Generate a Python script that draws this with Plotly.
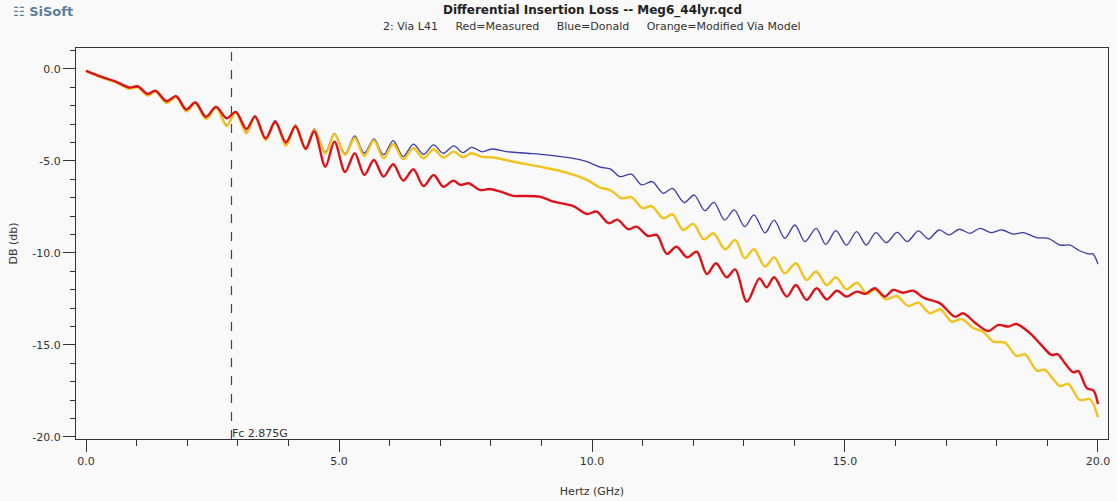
import plotly.graph_objects as go

# ---------------- data ----------------
freq_red = [0, 0.3, 0.59, 0.86, 1.02, 1.22, 1.37, 1.59, 1.78, 1.98, 2.16, 2.37, 2.57, 2.78, 2.96,
            3.17, 3.34, 3.55, 3.74, 3.95, 4.14, 4.34, 4.51, 4.73, 4.91, 5.12, 5.31, 5.50, 5.69, 5.88,
            6.07, 6.27, 6.47, 6.67, 6.87, 7.06, 7.26, 7.40, 7.56, 7.79, 7.98, 8.25, 8.45, 8.64, 8.97,
            9.24, 9.63, 9.90, 10.09, 10.33, 10.50, 10.72, 10.88, 11.11, 11.28, 11.48, 11.67, 11.88,
            12.07, 12.27, 12.45, 12.66, 12.83, 13.06, 13.31, 13.45, 13.60, 13.85, 14.03, 14.24, 14.44,
            14.64, 14.84, 15.03, 15.23, 15.40, 15.59, 15.79, 15.95, 16.15, 16.35, 16.55, 16.88, 17.17,
            17.34, 17.57, 17.83, 18.03, 18.23, 18.39, 18.66, 18.85, 19.08, 19.20, 19.35, 19.51, 19.61,
            19.78, 19.91, 20.0]
db_red = [-0.10, -0.42, -0.69, -1.01, -0.94, -1.36, -1.18, -1.75, -1.48, -2.20, -1.82, -2.60, -2.06,
          -2.68, -2.33, -3.26, -2.59, -3.77, -2.88, -3.98, -3.12, -4.35, -3.40, -5.31, -3.95, -5.60,
          -4.58, -5.76, -4.95, -5.85, -5.18, -6.07, -5.45, -6.36, -5.76, -6.40, -6.07, -6.30, -6.21,
          -6.58, -6.52, -6.72, -6.90, -6.90, -6.94, -7.21, -7.45, -7.88, -7.75, -8.38, -8.19, -8.71,
          -8.57, -9.08, -9.02, -10.05, -9.66, -10.24, -9.93, -11.14, -10.56, -11.32, -10.89, -12.65,
          -11.38, -11.87, -11.32, -12.37, -11.74, -12.55, -11.92, -12.52, -12.05, -12.37, -12.10,
          -12.22, -11.92, -12.37, -12.01, -12.16, -12.05, -12.43, -12.74, -13.46, -13.28, -13.79,
          -14.24, -13.91, -14.00, -13.86, -14.37, -14.91, -15.54, -15.50, -16.00, -16.49, -16.41,
          -17.35, -17.48, -18.21]

freq_orange = [0, 0.3, 0.59, 0.86, 1.02, 1.22, 1.37, 1.59, 1.78, 1.98, 2.16, 2.37, 2.57, 2.78, 2.96,
               3.17, 3.34, 3.55, 3.74, 3.95, 4.14, 4.34, 4.51, 4.73, 4.91, 5.12, 5.31, 5.50, 5.69,
               5.88, 6.07, 6.27, 6.47, 6.67, 6.87, 7.06, 7.27, 7.45, 7.62, 7.83, 8.02, 8.25, 8.45,
               8.97, 9.50, 9.90, 10.16, 10.36, 10.59, 10.78, 11.00, 11.18, 11.41, 11.59, 11.80, 12.00,
               12.21, 12.40, 12.63, 12.83, 13.02, 13.20, 13.42, 13.60, 13.81, 14.03, 14.24, 14.43,
               14.64, 14.82, 15.03, 15.24, 15.43, 15.59, 15.81, 16.02, 16.25, 16.45, 16.68, 16.88,
               17.11, 17.31, 17.54, 17.73, 17.93, 18.16, 18.39, 18.56, 18.79, 18.95, 19.25, 19.41,
               19.64, 19.84, 20.0]
db_orange = [-0.10, -0.45, -0.72, -1.08, -0.98, -1.45, -1.22, -1.85, -1.52, -2.30, -1.85, -2.72,
             -2.10, -3.10, -2.35, -3.50, -2.59, -3.86, -2.86, -4.17, -3.10, -4.35, -3.32, -4.58,
             -3.55, -4.67, -3.75, -4.73, -3.89, -4.86, -4.08, -4.91, -4.31, -4.86, -4.36, -4.82,
             -4.49, -4.80, -4.58, -4.78, -4.80, -4.92, -5.04, -5.31, -5.63, -6.03, -6.45, -6.58,
             -7.03, -6.97, -7.57, -7.45, -8.12, -7.90, -8.75, -8.42, -9.26, -8.93, -9.80, -9.29,
             -10.29, -9.80, -10.74, -10.24, -11.11, -10.56, -11.47, -11.01, -11.74, -11.32, -11.97,
             -11.61, -12.23, -11.97, -12.52, -12.34, -12.88, -12.70, -13.28, -13.06, -13.73, -13.60,
             -14.09, -14.28, -14.82, -14.87, -15.60, -15.51, -16.39, -16.36, -17.23, -17.12, -17.99,
             -17.95, -18.93]

freq_blue = [0, 0.3, 0.59, 0.86, 1.02, 1.22, 1.37, 1.59, 1.78, 1.98, 2.16, 2.37, 2.57, 2.78, 2.96,
             3.17, 3.34, 3.55, 3.74, 3.95, 4.14, 4.34, 4.51, 4.73, 4.91, 5.12, 5.31, 5.50, 5.69, 5.88,
             6.07, 6.27, 6.47, 6.67, 6.87, 7.06, 7.27, 7.45, 7.62, 7.83, 8.02, 8.31, 8.71, 9.10, 9.63,
             9.90, 10.16, 10.36, 10.55, 10.78, 10.98, 11.19, 11.41, 11.59, 11.82, 12.02, 12.23, 12.41,
             12.62, 12.81, 13.02, 13.20, 13.42, 13.60, 13.81, 14.01, 14.21, 14.43, 14.62, 14.82,
             15.03, 15.23, 15.42, 15.61, 15.82, 16.03, 16.23, 16.45, 16.65, 16.86, 17.06, 17.26,
             17.47, 17.67, 17.88, 18.10, 18.33, 18.52, 18.79, 19.02, 19.25, 19.45, 19.61, 19.81,
             19.90, 20.0]
db_blue = [-0.10, -0.44, -0.71, -1.06, -0.95, -1.42, -1.18, -1.82, -1.47, -2.26, -1.80, -2.68,
           -2.04, -3.05, -2.30, -3.45, -2.54, -3.80, -2.80, -4.10, -3.04, -4.28, -3.26, -4.52,
           -3.50, -4.60, -3.64, -4.58, -3.80, -4.67, -3.89, -4.76, -4.08, -4.64, -4.13, -4.58,
           -4.18, -4.55, -4.26, -4.50, -4.35, -4.49, -4.58, -4.67, -4.86, -5.04, -5.34, -5.43,
           -5.85, -5.72, -6.30, -6.12, -6.76, -6.49, -7.26, -6.85, -7.70, -7.25, -8.21, -7.66,
           -8.57, -7.93, -8.90, -8.21, -9.20, -8.48, -9.38, -8.66, -9.53, -8.79, -9.57, -8.84,
           -9.57, -8.89, -9.44, -8.88, -9.38, -8.80, -9.24, -8.75, -9.02, -8.71, -8.93, -8.66,
           -8.89, -8.75, -8.98, -8.89, -9.17, -9.20, -9.57, -9.57, -9.84, -10.05, -10.05, -10.60]

fc_ghz = 2.875
x_ticks = [0, 5, 10, 15, 20]
y_ticks = [0, -5, -10, -15, -20]

FONT = "DejaVu Sans"
BG = "#f9f9f9"

fig = go.Figure()
fig.add_trace(go.Scatter(x=freq_blue, y=db_blue, mode="lines",
                         line=dict(color="#3b3bab", width=1.3, shape="spline", smoothing=0.9),
                         name="Donald"))
fig.add_trace(go.Scatter(x=freq_orange, y=db_orange, mode="lines",
                         line=dict(color="#f4c21c", width=2.4, shape="spline", smoothing=0.9),
                         name="Modified Via Model"))
fig.add_trace(go.Scatter(x=freq_red, y=db_red, mode="lines",
                         line=dict(color="#dc1218", width=2.4, shape="spline", smoothing=0.9),
                         name="Measured"))

fig.add_shape(type="line", xref="x", yref="paper", x0=fc_ghz, x1=fc_ghz, y0=0, y1=1,
              line=dict(color="#444444", width=1.2, dash="dash"))

fig.add_annotation(x=fc_ghz, y=0, xref="x", yref="paper", text="Fc 2.875G",
                   showarrow=False, xanchor="left", yanchor="bottom", xshift=-1, yshift=-3,
                   font=dict(family=FONT, size=11, color="#333333"))

fig.add_annotation(x=0.5, y=1, xref="paper", yref="paper", yshift=28,
                   text="<b>Differential Insertion Loss -- Meg6_44lyr.qcd</b>",
                   showarrow=False, xanchor="center", yanchor="bottom",
                   font=dict(family=FONT, size=12, color="#222222"))
sp = "\u00a0" * 5
fig.add_annotation(x=0.5, y=1, xref="paper", yref="paper", yshift=13,
                   text="2: Via L41" + sp + "Red=Measured" + sp + "Blue=Donald" + sp +
                        "Orange=Modified Via Model",
                   showarrow=False, xanchor="center", yanchor="bottom",
                   font=dict(family=FONT, size=11, color="#333333"))

fig.add_annotation(x=-0.063, y=1, xref="paper", yref="paper", yshift=27,
                   text="<b>\u2637 SiSoft</b>", showarrow=False, xanchor="left",
                   yanchor="bottom", font=dict(family=FONT, size=13, color="#5a7d9c"))

fig.update_xaxes(range=[-0.198, 20.198], tickvals=x_ticks,
                 ticktext=[f"{v:.1f}" for v in x_ticks], automargin=False,
                 ticks="outside", ticklen=12, tickwidth=1, tickcolor="#333333",
                 minor=dict(dtick=1, tick0=0, ticks="outside", ticklen=6, tickcolor="#333333"),
                 showline=True, linecolor="#333333", linewidth=1, mirror=True,
                 showgrid=False, zeroline=False,
                 tickfont=dict(family=FONT, size=11, color="#333333"),
                 title=dict(text="Hertz (GHz)", standoff=20,
                            font=dict(family=FONT, size=11, color="#333333")))
fig.update_yaxes(range=[-20.11, 1.14], tickvals=y_ticks,
                 ticktext=[f"{v:.1f}" for v in y_ticks], automargin=False,
                 ticks="outside", ticklen=12, tickwidth=1, tickcolor="#333333",
                 minor=dict(dtick=1, tick0=0, ticks="outside", ticklen=5, tickcolor="#333333"),
                 showline=True, linecolor="#333333", linewidth=1, mirror=True,
                 showgrid=False, zeroline=False,
                 tickfont=dict(family=FONT, size=11, color="#333333"),
                 title=dict(text="DB (db)", standoff=12,
                            font=dict(family=FONT, size=11, color="#333333")))

fig.update_layout(width=1117, height=501, paper_bgcolor=BG, plot_bgcolor=BG,
                  margin=dict(l=76, r=9, t=48, b=62, autoexpand=False), showlegend=False,
                  font=dict(family=FONT, size=11, color="#333333"))

fig.write_html("out.html", config={"displayModeBar": False},
               post_script="document.body.style.margin='0';document.body.style.padding='0';"
                           "document.body.style.background='#f9f9f9';"
                           "document.body.style.overflow='hidden';")
